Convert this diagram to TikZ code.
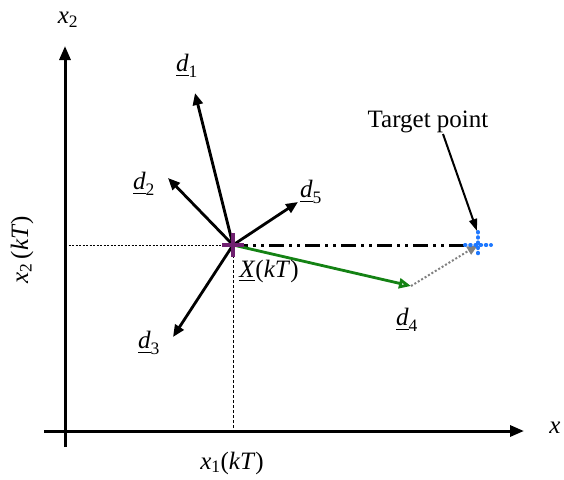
\documentclass[tikz,border=0pt]{standalone}
\usepackage{amsmath}
\usepackage{fontspec}
\setmainfont{Liberation Serif}
\usetikzlibrary{arrows.meta,calc}
\definecolor{xpurple}{RGB}{112,32,112}
\definecolor{tblue}{RGB}{30,120,255}
\definecolor{dgreen}{RGB}{20,130,20}
\tikzset{
  lbl/.style={inner sep=0pt,font=\fontsize{25}{28}\selectfont},
  axis/.style={line width=3pt,-{Triangle[length=14pt,width=11pt]}},
  dvec/.style={line width=2.8pt,-{Triangle[length=12pt,width=10pt]}},
  guide/.style={line width=0.8pt,dash pattern=on 2pt off 1.5pt},
}
\begin{document}
\begin{tikzpicture}[x=1pt,y=-1pt]
\useasboundingbox (0,0) rectangle (564,479);
% axes
\coordinate (ybot) at (65,447);
\coordinate (ytop) at (65,46);
\coordinate (xleft) at (44,431);
\coordinate (xright) at (524,431);
\draw[axis] (ybot) -- (ytop);
\draw[axis] (xleft) -- (xright);
\node[lbl] (lx2) at (68,20) {$\textit{x}_{\text{2}}$};
\node[lbl] (lx) at (555,428) {\textit{x}};
\node[lbl] (lx1) at (232,463) {$\textit{x}_{\text{1}}$(\textit{kT})};
\node[lbl,rotate=90] (lx2kT) at (22,250) {$\textit{x}_{\text{2}}$\,(\textit{kT})};
% points
\coordinate (X) at (233,245);
\coordinate (T) at (478,245);
\coordinate (yX) at (65,245);
\coordinate (xX) at (233,431);
\draw[guide] (yX) -- (X);
\draw[guide,dash pattern=on 3pt off 2pt] (X) -- (xX);
% dash-dot line
\draw[line width=3pt,dash pattern=on 15pt off 5pt on 3pt off 5pt on 3pt off 5pt] (X) -- (T);
% direction vectors
\coordinate (d1) at (195,93);
\coordinate (d2) at (168,178);
\coordinate (d3) at (173,337);
\coordinate (d5) at (298,202);
\coordinate (d4) at (411,286);
\draw[dvec] (X) -- (d1);
\draw[dvec] (X) -- (d2);
\draw[dvec] (X) -- (d3);
\draw[dvec] (X) -- (d5);
\draw[dgreen,line width=2.8pt,-{Triangle[open,length=12pt,width=10pt]}] (X) -- (d4);
\draw[gray,line width=2pt,dash pattern=on 2pt off 2pt,-{Triangle[length=11pt,width=9pt]}] (d4) -- (T);
% crosses
\draw[xpurple,line width=4pt] ($(X)+(-11,0)$) -- ($(X)+(11,0)$) ($(X)+(0,-12)$) -- ($(X)+(0,12)$);
\draw[tblue,line width=4pt,line cap=round,dash pattern=on 0.5pt off 4.7pt] ($(T)+(-13,0)$) -- ($(T)+(13,0)$) ($(T)+(0,-13)$) -- ($(T)+(0,13)$);
% labels
\node[lbl] (ld1) at (187,66) {$\underline{\textit{d}}_{\text{1}}$};
\node[lbl] (ld2) at (144,184) {$\underline{\textit{d}}_{\text{2}}$};
\node[lbl] (ld3) at (149,343) {$\underline{\textit{d}}_{\text{3}}$};
\node[lbl] (ld5) at (311,192) {$\underline{\textit{d}}_{\text{5}}$};
\node[lbl] (ld4) at (407,320) {$\underline{\textit{d}}_{\text{4}}$};
\node[lbl] (lX) at (269,271) {\underline{\textit{X}}(\textit{kT})};
\node[lbl] (ltp) at (428,122) {Target point};
\coordinate (tpstart) at (443,134);
\coordinate (tparrow) at (477,231);
\draw[line width=2pt,-{Triangle[length=12pt,width=8pt]}] (tpstart) -- (tparrow);
\end{tikzpicture}
\end{document}
